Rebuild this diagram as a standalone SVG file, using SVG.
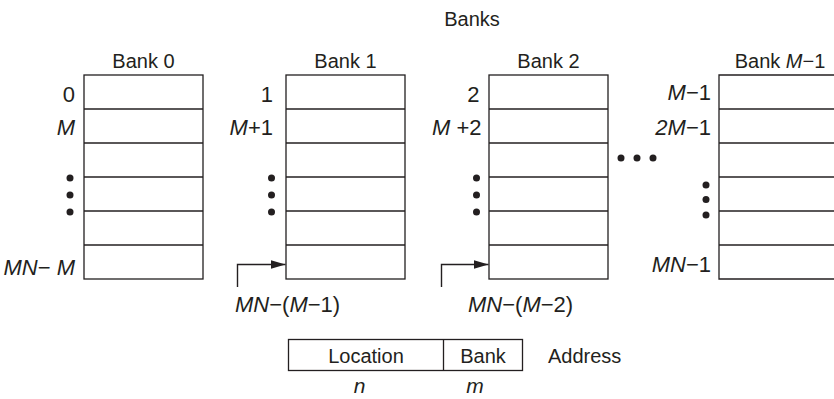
<svg xmlns="http://www.w3.org/2000/svg" width="834" height="399" viewBox="0 0 834 399">
<style>
  text { font-family: "Liberation Sans", Arial, sans-serif; font-size: 20px; fill: #231f20; }
  .mt { font-size: 22px; }
  .sm { font-size: 21px; }
  .i { font-style: italic; }
  .e { text-anchor: end; }
  .m { text-anchor: middle; }
  .box { fill: none; stroke: #231f20; stroke-width: 1.3; }
  .row { stroke: #231f20; stroke-width: 1.3; }
  .dot { fill: #231f20; }
  .conn { fill: none; stroke: #231f20; stroke-width: 1.4; }
</style>
<defs>
  <marker id="ah" markerWidth="15" markerHeight="9" refX="15" refY="4.5" orient="auto" markerUnits="userSpaceOnUse">
    <path d="M0,0 L15,4.5 L0,9 Z" fill="#231f20"/>
  </marker>
  <g id="rows">
    <line class="row" x1="0" y1="109" x2="119" y2="109"/>
    <line class="row" x1="0" y1="143" x2="119" y2="143"/>
    <line class="row" x1="0" y1="177" x2="119" y2="177"/>
    <line class="row" x1="0" y1="211" x2="119" y2="211"/>
    <line class="row" x1="0" y1="245" x2="119" y2="245"/>
  </g>
  <g id="vdots">
    <circle class="dot" cx="0" cy="178" r="3.5"/>
    <circle class="dot" cx="0" cy="195" r="3.5"/>
    <circle class="dot" cx="0" cy="212" r="3.5"/>
  </g>
</defs>

<text class="m" x="472" y="26">Banks</text>

<g id="bank0">
  <text class="m" x="143.5" y="68">Bank 0</text>
  <rect class="box" x="84" y="75" width="119" height="204"/>
  <use href="#rows" x="84"/>
  <text class="e mt" x="75" y="102">0</text>
  <text class="e mt i" x="75" y="135">M</text>
  <use href="#vdots" x="70"/>
  <text class="e mt" x="75" y="275"><tspan class="i">MN</tspan>− <tspan class="i">M</tspan></text>
</g>

<g id="bank1">
  <text class="m" x="345.5" y="68">Bank 1</text>
  <rect class="box" x="286" y="75" width="119" height="204"/>
  <use href="#rows" x="286"/>
  <text class="e mt" x="273" y="102">1</text>
  <text class="e mt" x="273" y="135"><tspan class="i">M</tspan>+1</text>
  <use href="#vdots" x="271.5"/>
  <text class="mt" x="235" y="312"><tspan class="i">MN</tspan>−(<tspan class="i">M</tspan>−1)</text>
</g>

<g id="bank2">
  <text class="m" x="548.5" y="68">Bank 2</text>
  <rect class="box" x="489" y="75" width="119" height="204"/>
  <use href="#rows" x="489"/>
  <text class="e mt" x="479.5" y="102">2</text>
  <text class="e mt" x="481.5" y="135"><tspan class="i">M</tspan> +2</text>
  <use href="#vdots" x="476.5"/>
  <text class="mt" x="468" y="312"><tspan class="i">MN</tspan>−(<tspan class="i">M</tspan>−2)</text>
</g>

<g id="hdots">
  <circle class="dot" cx="621" cy="158" r="3.5"/>
  <circle class="dot" cx="637" cy="158" r="3.5"/>
  <circle class="dot" cx="653" cy="158" r="3.5"/>
</g>

<g id="bankM1">
  <text class="m" x="780" y="68">Bank <tspan class="i">M</tspan>−1</text>
  <path class="box" d="M840,75 H719 V279 H840"/>
  <use href="#rows" x="719"/>
  <text class="e mt" x="711" y="100"><tspan class="i">M</tspan>−1</text>
  <text class="e mt" x="711" y="135"><tspan class="i">2M</tspan>−1</text>
  <circle class="dot" cx="706" cy="185" r="3.5"/>
  <circle class="dot" cx="706" cy="199.5" r="3.5"/>
  <circle class="dot" cx="706" cy="215" r="3.5"/>
  <text class="e mt" x="711" y="272"><tspan class="i">MN</tspan>−1</text>
</g>

<g id="connectors">
  <path class="conn" d="M237.5,287 V264.5 H285.5" marker-end="url(#ah)"/>
  <path class="conn" d="M441.5,287 V264.5 H488.5" marker-end="url(#ah)"/>
</g>

<g id="address">
  <rect class="box" x="288.5" y="339.5" width="234" height="31"/>
  <line class="row" x1="443.5" y1="339.5" x2="443.5" y2="370.5"/>
  <text class="m" x="366" y="363">Location</text>
  <text class="m" x="483" y="363">Bank</text>
  <text x="548" y="363">Address</text>
  <text class="m sm i" x="359.5" y="393">n</text>
  <text class="m sm i" x="475" y="393">m</text>
</g>
</svg>
